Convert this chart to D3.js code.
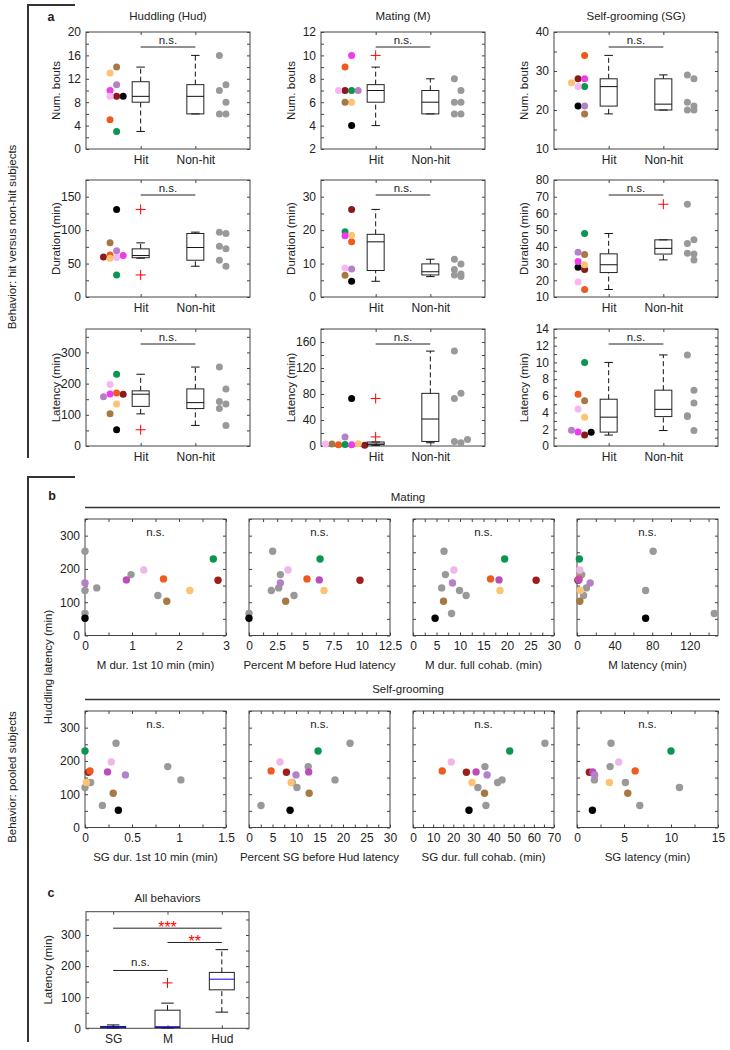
<!DOCTYPE html>
<html>
<head>
<meta charset="utf-8">
<script src="https://cdn.jsdelivr.net/npm/d3@7"></script>
<style>
  body { margin: 0; background: #fff; }
  svg { font-family: "Liberation Sans", Arial, sans-serif; font-size: 11.5px; fill: #222; }
  .ax { font-family: "Liberation Sans", Arial, sans-serif; font-size: 12px; }
  .ax text { fill: #222; }
  .ax line { stroke: #444; }
</style>
</head>
<body>
<svg width="730" height="1050"></svg>
<script>
// hit subjects, one colour each (black, dark red, orange, peach, brown, green, magenta, pink, lavender)
var hitColors = ['#000000', '#8b1a1a', '#ef5a1f', '#fdc272', '#a67944', '#0b9650', '#ee3bee', '#f8b5f1', '#b580c8'];
var hitColorsB = ['#000000', '#a01d1d', '#ef5a1f', '#fdc272', '#a67944', '#0b9650', '#bb4dbb', '#f1b6e8', '#b580c8'];
var nonColor = '#999999';

// huddling
var hudBoutsHit = [9, 9, 5, 13, 14, 3, 10, 9, 11];
var hudBoutsHitCol = [3, 2, 1, 1, 2, 2, 1, 1, 2];
var hudBoutsNon = [16, 10, 11, 8, 6, 6];
var hudBoutsNonCol = [0, 0, 1, 1, 0, 1];
var hudDurHit = [131, 60, 63, 58, 81, 33, 62, 59, 69];
var hudDurHitCol = [2, 0, 1, 1, 1, 2, 3, 2, 2];
var hudDurNon = [97, 95, 76, 72, 55, 46];
var hudDurNonCol = [0, 1, 0, 1, 0, 1];
var hudLatHit = [52, 166, 170, 135, 103, 230, 167, 197, 158];
var hudLatHitCol = [2, 3, 2, 2, 1, 2, 1, 1, 0];
var hudLatNon = [253, 183, 143, 135, 120, 66];
var hudLatNonCol = [0, 1, 0, 1, 0, 1];

// mating
var mBoutsHit = [4, 7, 9, 6, 6, 7, 10, 7, 7];
var mBoutsHitCol = [2, 1, 1, 2, 1, 2, 2, 0, 3];
var mBoutsNon = [8, 7, 6, 6, 5, 5];
var mBoutsNonCol = [0, 1, 0, 1, 0, 1];
var mDurHit = [4.7, 26.2, 16.5, 18.5, 6.5, 19.5, 18.3, 8.7, 8.4];
var mDurHitCol = [2, 2, 2, 2, 1, 1, 1, 1, 2];
var mDurNon = [6.6, 6.9, 6.1, 9.9, 11.3, 8.2];
var mDurNonCol = [0, 1, 1, 1, 0, 0];
var mLatHit = [73, 1, 2, 3.5, 3, 2.5, 2, 3, 14];
var mLatHitCol = [2, 4, 0, 3, -1, 1, 2, -2, 1];
var mLatNon = [81, 5, 10, 73, 7, 146];
var mLatNonCol = [1, 1, 2, 0, 0, 0];
var mDur10Hit = [0, 2.83, 1.67, 2.23, 1.74, 2.73, 0.88, 1.25, 0];
var mDur10Non = [0, 0.98, 0.25, 0, 1.55, 0];
var mPctHit = [0, 9.84, 5.14, 6.65, 3.25, 6.3, 6.23, 3.46, 2.78];
var mPctNon = [2.1, 2.78, 2.63, 1.98, 3.99, 0];

// self-grooming
var sgBoutsHit = [21, 28, 34, 27, 19, 26, 28, 26, 21];
var sgBoutsHitCol = [1, 1, 2, 0, 2, 2, 2, 1, 2];
var sgBoutsNon = [29, 28, 22, 21, 20, 20];
var sgBoutsNonCol = [0, 1, 0, 1, 0, 1];
var sgDurHit = [27.8, 26.5, 14.5, 29.3, 35.5, 48, 31.3, 19, 36.8];
var sgDurHitCol = [1, 2, 2, 2, 2, 2, 1, 1, 1];
var sgDurNon = [65.5, 35.7, 44.2, 42, 32.2, 36.2];
var sgDurNonCol = [0, 1, 1, 0, 1, 0];
var sgLatHit = [1.64, 1.31, 6.19, 3.45, 5.4, 10.0, 1.67, 4.44, 1.88];
var sgLatHitCol = [3, 2, 1, 2, 2, 2, 1, 1, 0];
var sgLatNon = [3.62, 3.52, 1.85, 5.15, 10.9, 6.68];
var sgLatNonCol = [0, 0, 1, 1, 0, 1];
var sgDur10Hit = [0.355, 0.036, 0.053, 0.014, 0.30, 0, 0.24, 0.28, 0.43];
var sgDur10Non = [0.33, 0.88, 1.02, 0.06, 0, 0.185];
var sgPctHit = [8.74, 7.96, 4.7, 8.96, 12.8, 14.7, 12.7, 6.6, 10.0];
var sgPctNon = [21.5, 12.6, 18.3, 9.17, 10.2, 2.56];

var cCats = ['SG', 'M', 'Hud'];

var svg = d3.select('svg');
var fmt = d3.format('~g');

function ticks(dom, step) {
  return d3.range(dom[0], dom[1] + step / 2, step);
}
function labelEvery(step) {
  return function(d) {
    return Math.abs(d / step - Math.round(d / step)) < 1e-6 ? fmt(d) : '';
  };
}

// matlab style quartiles
function quant(s, p) {
  var pos = s.length * p + 0.5;
  if (pos <= 1) return s[0];
  if (pos >= s.length) return s[s.length - 1];
  var i = Math.floor(pos);
  return s[i - 1] + (pos - i) * (s[i] - s[i - 1]);
}
function boxStats(vals) {
  var s = vals.slice().sort(d3.ascending);
  var q1 = quant(s, 0.25), med = quant(s, 0.5), q3 = quant(s, 0.75);
  var lim0 = q1 - 1.5 * (q3 - q1), lim1 = q3 + 1.5 * (q3 - q1);
  var inside = s.filter(function(v) { return v >= lim0 && v <= lim1; });
  return {
    q1: q1, med: med, q3: q3,
    lo: Math.min(d3.min(inside), q1),
    hi: Math.max(d3.max(inside), q3),
    out: s.filter(function(v) { return v < lim0 || v > lim1; })
  };
}

function axes(g, x, y, xt, xf, yt, yf) {
  var w = x.range()[1], h = y.range()[0];
  g.append('g').attr('class', 'ax')
    .call(d3.axisLeft(y).tickValues(yt).tickSize(-3).tickPadding(5).tickFormat(yf));
  g.append('g').attr('class', 'ax').attr('transform', 'translate(' + w + ',0)')
    .call(d3.axisRight(y).tickValues(yt).tickSize(-3).tickFormat(''));
  g.append('g').attr('class', 'ax').attr('transform', 'translate(0,' + h + ')')
    .call(d3.axisBottom(x).tickValues(xt).tickSize(-3).tickPadding(6).tickFormat(xf));
  g.append('g').attr('class', 'ax')
    .call(d3.axisTop(x).tickValues(xt).tickSize(-3).tickFormat(''));
  g.selectAll('.ax .domain').remove();
  g.append('rect')
    .attr('width', w).attr('height', h)
    .attr('fill', 'none').attr('stroke', '#444');
}

function drawBox(g, x, y, cx, vals, bw, medColor) {
  var b = boxStats(vals);
  var xc = x(cx);
  g.selectAll(null)
    .data([[b.q3, b.hi], [b.lo, b.q1]])
    .enter().append('line')
      .attr('x1', xc).attr('x2', xc)
      .attr('y1', function(d) { return y(d[0]); })
      .attr('y2', function(d) { return y(d[1]); })
      .attr('stroke', '#111').attr('stroke-dasharray', '5,3');
  g.selectAll(null)
    .data([b.lo, b.hi])
    .enter().append('line')
      .attr('x1', xc - bw / 4).attr('x2', xc + bw / 4)
      .attr('y1', function(d) { return y(d); })
      .attr('y2', function(d) { return y(d); })
      .attr('stroke', '#111');
  g.append('rect')
    .attr('x', xc - bw / 2).attr('width', bw)
    .attr('y', y(b.q3)).attr('height', Math.max(y(b.q1) - y(b.q3), 0.5))
    .attr('fill', 'none').attr('stroke', '#222');
  g.append('line')
    .attr('x1', xc - bw / 2).attr('x2', xc + bw / 2)
    .attr('y1', y(b.med)).attr('y2', y(b.med))
    .attr('stroke', medColor);
  g.selectAll(null)
    .data(b.out)
    .enter().append('path')
      .attr('d', 'M-5,0H5M0,-5V5')
      .attr('transform', function(d) { return 'translate(' + xc + ',' + y(d) + ')'; })
      .attr('stroke', '#ff0000').attr('fill', 'none');
}

function sigBar(g, x0, x1, yy, label, color, below) {
  g.append('line')
    .attr('x1', x0).attr('x2', x1).attr('y1', yy).attr('y2', yy)
    .attr('stroke', '#222');
  g.append('text')
    .attr('x', (x0 + x1) / 2).attr('y', yy + below)
    .attr('text-anchor', 'middle')
    .attr('fill', color)
    .style('font-size', label.indexOf('*') >= 0 ? '16px' : '11.5px')
    .text(label);
}

// ---------- panel a ----------
var aLeft = [86, 321, 554], aTop = [32, 180, 329], aW = 164, aH = 117;
var aTitles = ['Huddling (Hud)', 'Mating (M)', 'Self-grooming (SG)'];
var aLabels = ['Num. bouts', 'Duration (min)', 'Latency (min)'];
var aPlots = [
  [
    {dom: [0, 20], minor: 2, major: 4, hit: hudBoutsHit, hitCol: hudBoutsHitCol, non: hudBoutsNon, nonCol: hudBoutsNonCol},
    {dom: [2, 12], minor: 1, major: 2, hit: mBoutsHit, hitCol: mBoutsHitCol, non: mBoutsNon, nonCol: mBoutsNonCol},
    {dom: [10, 40], minor: 5, major: 10, hit: sgBoutsHit, hitCol: sgBoutsHitCol, non: sgBoutsNon, nonCol: sgBoutsNonCol}
  ],
  [
    {dom: [0, 175], minor: 25, major: 50, hit: hudDurHit, hitCol: hudDurHitCol, non: hudDurNon, nonCol: hudDurNonCol},
    {dom: [0, 35], minor: 5, major: 10, hit: mDurHit, hitCol: mDurHitCol, non: mDurNon, nonCol: mDurNonCol},
    {dom: [10, 80], minor: 10, major: 10, hit: sgDurHit, hitCol: sgDurHitCol, non: sgDurNon, nonCol: sgDurNonCol}
  ],
  [
    {dom: [0, 375], minor: 50, major: 100, hit: hudLatHit, hitCol: hudLatHitCol, non: hudLatNon, nonCol: hudLatNonCol},
    {dom: [0, 180], minor: 20, major: 40, hit: mLatHit, hitCol: mLatHitCol, non: mLatNon, nonCol: mLatNonCol},
    {dom: [0, 14], minor: 1, major: 2, hit: sgLatHit, hitCol: sgLatHitCol, non: sgLatNon, nonCol: sgLatNonCol}
  ]
];

aPlots.forEach(function(row, r) {
  row.forEach(function(p, c) {
    var g = svg.append('g').attr('transform', 'translate(' + aLeft[c] + ',' + aTop[r] + ')');
    var x = d3.scaleLinear().domain([0, 3]).range([0, aW]);
    var y = d3.scaleLinear().domain(p.dom).range([aH, 0]);
    axes(g, x, y, [1, 2], function(d) { return d === 1 ? 'Hit' : 'Non-hit'; },
      ticks(p.dom, p.minor), labelEvery(p.major));

    g.selectAll('circle.hit')
      .data(p.hit)
      .enter().append('circle')
        .attr('class', 'hit')
        .attr('cx', function(d, i) { return x(0.32 + 0.12 * p.hitCol[i]); })
        .attr('cy', function(d) { return y(d); })
        .attr('r', 3.5)
        .attr('fill', function(d, i) { return hitColors[i]; });
    g.selectAll('circle.non')
      .data(p.non)
      .enter().append('circle')
        .attr('class', 'non')
        .attr('cx', function(d, i) { return x(2.44 + 0.12 * p.nonCol[i]); })
        .attr('cy', function(d) { return y(d); })
        .attr('r', 3.5)
        .attr('fill', nonColor);

    drawBox(g, x, y, 1, p.hit, 17, '#111');
    drawBox(g, x, y, 2, p.non, 17, '#111');
    sigBar(g, x(1), x(2), 15, 'n.s.', '#222', -3.5);

    g.append('text')
      .attr('transform', 'translate(-30,' + aH / 2 + ') rotate(-90)')
      .attr('text-anchor', 'middle').attr('dy', '0.35em')
      .text(aLabels[r]);
    if (r === 0) {
      g.append('text')
        .attr('x', aW / 2).attr('y', -12)
        .attr('text-anchor', 'middle')
        .text(aTitles[c]);
    }
  });
});

// ---------- panel b ----------
var bLeft = [85, 249, 413, 577], bTop = [519, 711], bW = 141, bH = 116.5;
var bRows = [
  {title: 'Mating', plots: [
    {xl: 'M dur. 1st 10 min (min)', dom: [0, 3], minor: 0.5, major: 1, hit: mDur10Hit, non: mDur10Non},
    {xl: 'Percent M before Hud latency', dom: [0, 12.5], minor: 1.25, major: 2.5, hit: mPctHit, non: mPctNon},
    {xl: 'M dur. full cohab. (min)', dom: [0, 30], minor: 2.5, major: 5, hit: mDurHit, non: mDurNon},
    {xl: 'M latency (min)', dom: [0, 150], minor: 20, major: 40, hit: mLatHit, non: mLatNon}
  ]},
  {title: 'Self-grooming', plots: [
    {xl: 'SG dur. 1st 10 min (min)', dom: [0, 1.5], minor: 0.25, major: 0.5, hit: sgDur10Hit, non: sgDur10Non},
    {xl: 'Percent SG before Hud latency', dom: [0, 30], minor: 2.5, major: 5, hit: sgPctHit, non: sgPctNon},
    {xl: 'SG dur. full cohab. (min)', dom: [0, 70], minor: 5, major: 10, hit: sgDurHit, non: sgDurNon},
    {xl: 'SG latency (min)', dom: [0, 15], minor: 2.5, major: 5, hit: sgLatHit, non: sgLatNon}
  ]}
];

bRows.forEach(function(row, r) {
  svg.append('text')
    .attr('x', 408).attr('y', bTop[r] - 18)
    .attr('text-anchor', 'middle')
    .text(row.title);
  svg.append('line')
    .attr('x1', 85).attr('x2', 720)
    .attr('y1', bTop[r] - 11.5).attr('y2', bTop[r] - 11.5)
    .attr('stroke', '#333').attr('stroke-width', 1.6);

  row.plots.forEach(function(p, c) {
    var g = svg.append('g').attr('transform', 'translate(' + bLeft[c] + ',' + bTop[r] + ')');
    var x = d3.scaleLinear().domain(p.dom).range([0, bW]);
    var y = d3.scaleLinear().domain([0, 350]).range([bH, 0]);
    axes(g, x, y, ticks(p.dom, p.minor), labelEvery(p.major),
      ticks([0, 350], 50), c === 0 ? labelEvery(100) : '');

    g.selectAll('circle.non')
      .data(p.non)
      .enter().append('circle')
        .attr('class', 'non')
        .attr('cx', function(d) { return x(d); })
        .attr('cy', function(d, i) { return y(hudLatNon[i]); })
        .attr('r', 3.7)
        .attr('fill', nonColor);
    g.selectAll('circle.hit')
      .data(p.hit)
      .enter().append('circle')
        .attr('class', 'hit')
        .attr('cx', function(d) { return x(d); })
        .attr('cy', function(d, i) { return y(hudLatHit[i]); })
        .attr('r', 3.7)
        .attr('fill', function(d, i) { return hitColorsB[i]; });

    g.append('text')
      .attr('x', bW / 2).attr('y', 17)
      .attr('text-anchor', 'middle')
      .text('n.s.');
    g.append('text')
      .attr('x', bW / 2).attr('y', bH + 33)
      .attr('text-anchor', 'middle')
      .text(p.xl);
  });
});

svg.append('text')
  .attr('transform', 'translate(48,667) rotate(-90)')
  .attr('text-anchor', 'middle').attr('dy', '0.35em')
  .text('Huddling latency (min)');

// ---------- panel c ----------
var cg = svg.append('g').attr('transform', 'translate(86,911.7)');
var cx = d3.scaleLinear().domain([0, 3]).range([0, 163]);
var cy = d3.scaleLinear().domain([0, 375]).range([116.6, 0]);
axes(cg, cx, cy, [0.5, 1.5, 2.5], function(d) { return cCats[Math.floor(d)]; },
  ticks([0, 375], 50), labelEvery(100));
var cVals = [sgLatHit.concat(sgLatNon), mLatHit.concat(mLatNon), hudLatHit.concat(hudLatNon)];
cVals.forEach(function(v, i) {
  drawBox(cg, cx, cy, i + 0.5, v, 25, '#0000ff');
});
sigBar(cg, cx(0.5), cx(2.5), cy(322), '***', '#ff0000', 5);
sigBar(cg, cx(1.5), cx(2.5), cy(276), '**', '#ff0000', 5);
sigBar(cg, cx(0.5), cx(1.5), cy(186), 'n.s.', '#222', -4);
cg.append('text')
  .attr('x', 81.5).attr('y', -10)
  .attr('text-anchor', 'middle')
  .text('All behaviors');
cg.append('text')
  .attr('transform', 'translate(-38,58) rotate(-90)')
  .attr('text-anchor', 'middle').attr('dy', '0.35em')
  .text('Latency (min)');

// ---------- frame, panel letters ----------
svg.append('path')
  .attr('d', 'M75,5H28V458')
  .attr('fill', 'none').attr('stroke', '#333').attr('stroke-width', 2);
svg.append('path')
  .attr('d', 'M75,477H28V1042')
  .attr('fill', 'none').attr('stroke', '#333').attr('stroke-width', 2);
[['a', 51, 21], ['b', 52, 500], ['c', 51, 897]].forEach(function(d) {
  svg.append('text')
    .attr('x', d[1]).attr('y', d[2])
    .attr('text-anchor', 'middle')
    .style('font-weight', 'bold').style('font-size', '12.5px')
    .text(d[0]);
});
svg.append('text')
  .attr('transform', 'translate(12,237) rotate(-90)')
  .attr('text-anchor', 'middle').attr('dy', '0.35em')
  .text('Behavior: hit versus non-hit subjects');
svg.append('text')
  .attr('transform', 'translate(12,777) rotate(-90)')
  .attr('text-anchor', 'middle').attr('dy', '0.35em')
  .text('Behavior: pooled subjects');
</script>
</body>
</html>
